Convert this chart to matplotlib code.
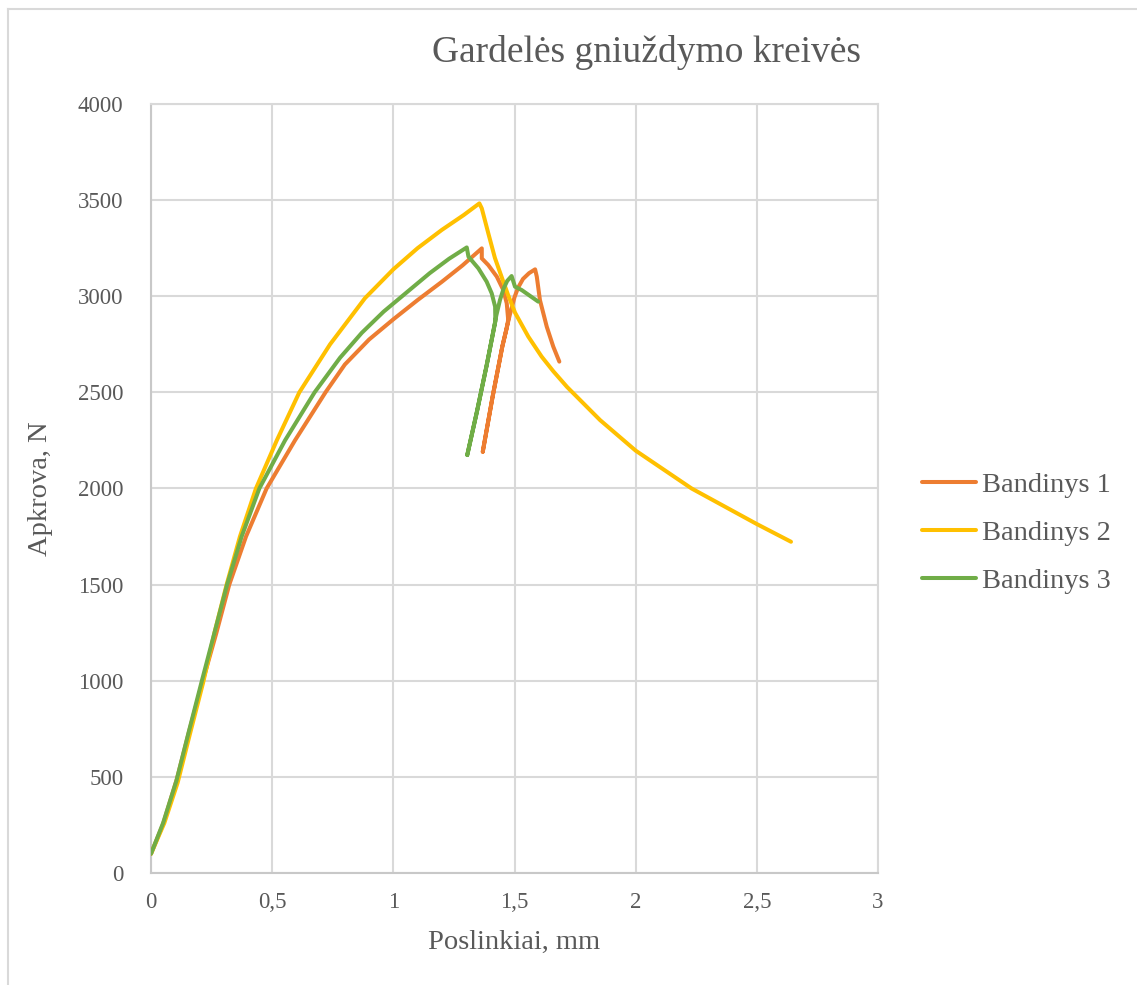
import matplotlib
matplotlib.use("Agg")
import matplotlib.pyplot as plt
from matplotlib.lines import Line2D

# ---------------- data ----------------
# Bandinys 1 (orange): loading branch, collapse branch, reloading branch
b1_rise_x = [0, 0.05, 0.107, 0.158, 0.214, 0.27, 0.323, 0.392, 0.477, 0.594, 0.72, 0.80, 0.90, 1.0, 1.1, 1.2, 1.285, 1.365]
b1_rise_y = [100, 255, 490, 740, 1000, 1250, 1500, 1750, 2000, 2250, 2500, 2645, 2775, 2880, 2980, 3075, 3160, 3249]
b1_fall_x = [1.365, 1.392, 1.427, 1.454, 1.468, 1.474, 1.467, 1.45, 1.41, 1.369]
b1_fall_y = [3197, 3162, 3102, 3032, 2963, 2877, 2830, 2740, 2480, 2191]
b1_back_x = [1.41, 1.45, 1.48, 1.50, 1.515, 1.535, 1.56, 1.585, 1.592, 1.605, 1.633, 1.66, 1.685]
b1_back_y = [2480, 2740, 2900, 2995, 3045, 3090, 3120, 3140, 3102, 2980, 2842, 2738, 2660]

# Bandinys 2 (yellow)
b2_x = [0, 0.055, 0.11, 0.16, 0.215, 0.262, 0.312, 0.367, 0.433, 0.519, 0.612, 0.739, 0.883, 1.0, 1.1, 1.2, 1.29,
        1.355, 1.365, 1.392, 1.419, 1.447, 1.474, 1.502, 1.557, 1.612, 1.66, 1.717, 1.853, 2.0, 2.231, 2.5, 2.641]
b2_y = [100, 260, 470, 720, 990, 1250, 1500, 1750, 2000, 2250, 2500, 2750, 2990, 3140, 3250, 3345, 3422,
        3483, 3457, 3327, 3200, 3100, 3005, 2915, 2790, 2686, 2610, 2528, 2356, 2197, 2000, 1815, 1723]

# Bandinys 3 (green)
b3_rise_x = [0, 0.05, 0.105, 0.155, 0.21, 0.262, 0.314, 0.374, 0.447, 0.553, 0.675, 0.78, 0.87, 0.96, 1.055, 1.15, 1.23, 1.303]
b3_rise_y = [100, 260, 480, 730, 1000, 1250, 1500, 1750, 2000, 2250, 2500, 2680, 2810, 2920, 3020, 3120, 3195, 3254]
b3_fall_x = [1.31, 1.351, 1.385, 1.406, 1.420, 1.421, 1.41, 1.385, 1.345, 1.305]
b3_fall_y = [3206, 3145, 3076, 3015, 2946, 2870, 2800, 2640, 2400, 2174]
b3_back_x = [1.345, 1.385, 1.41, 1.425, 1.44, 1.455, 1.47, 1.488, 1.502, 1.530, 1.598]
b3_back_y = [2400, 2640, 2800, 2900, 2980, 3040, 3080, 3105, 3050, 3032, 2972]

series_names = ["Bandinys 1", "Bandinys 2", "Bandinys 3"]
series_colors = ["#ED7D31", "#FFC000", "#70AD47"]

title_text = "Gardelės gniuždymo kreivės"
xlabel_text = "Poslinkiai, mm"
ylabel_text = "Apkrova, N"
x_ticks = [0, 0.5, 1, 1.5, 2, 2.5, 3]
x_tick_labels = ["0", "0,5", "1", "1,5", "2", "2,5", "3"]
y_ticks = [0, 500, 1000, 1500, 2000, 2500, 3000, 3500, 4000]

# ---------------- figure ----------------
plt.rcParams['font.family'] = ['Liberation Serif', 'DejaVu Serif']
text_color = "#595959"
grid_color = "#d9d9d9"

W, H = 1137, 985
fig = plt.figure(figsize=(W / 100, H / 100), dpi=100)
fig.patch.set_facecolor("white")

# chart-area border (left and top visible)
fig.add_artist(Line2D([7.5 / W, 7.5 / W], [1 - 8.5 / H, 0], transform=fig.transFigure,
                      color=grid_color, lw=1.5))
fig.add_artist(Line2D([7.5 / W, 1], [1 - 8.5 / H, 1 - 8.5 / H], transform=fig.transFigure,
                      color=grid_color, lw=1.5))

left, right, top, bottom = 151, 878, 104, 873
ax = fig.add_axes([left / W, 1 - bottom / H, (right - left) / W, (bottom - top) / H])

lw = 2.9
b1_x = b1_rise_x + b1_fall_x + b1_back_x
b1_y = b1_rise_y + b1_fall_y + b1_back_y
b3_x = b3_rise_x + b3_fall_x + b3_back_x
b3_y = b3_rise_y + b3_fall_y + b3_back_y

style = dict(lw=lw, solid_capstyle='round', solid_joinstyle='round', zorder=3)
ax.plot(b1_x, b1_y, color=series_colors[0], label=series_names[0], **style)
ax.plot(b2_x, b2_y, color=series_colors[1], label=series_names[1], **style)
ax.plot(b3_x, b3_y, color=series_colors[2], label=series_names[2], **style)

ax.set_xlim(0, 3)
ax.set_ylim(0, 4000)
ax.set_xticks(x_ticks)
ax.set_xticklabels(x_tick_labels)
ax.set_yticks(y_ticks)
ax.grid(True, color=grid_color, lw=1.5, zorder=0)
ax.set_axisbelow(True)
for s in ax.spines.values():
    s.set_color(grid_color)
    s.set_linewidth(1.5)
ax.spines['left'].set_color("#c8c8c8")
ax.spines['bottom'].set_color("#c8c8c8")
ax.tick_params(axis='both', length=0, labelsize=16.5, colors=text_color)
ax.tick_params(axis='y', pad=20)
ax.tick_params(axis='x', pad=14)

ax.set_xlabel(xlabel_text, fontsize=20.5, color=text_color, labelpad=12)
ax.set_ylabel(ylabel_text, fontsize=20.5, color=text_color, labelpad=18)

fig.text(646 / W, 1 - 52 / H, title_text, fontsize=27, color=text_color,
         ha='center', va='center')

leg = fig.legend(handles=ax.get_lines(), labels=series_names, loc='center left',
                 bbox_to_anchor=(922 / W, 1 - 533 / H), frameon=False,
                 fontsize=20.5, handlelength=1.9, handletextpad=0.2,
                 labelspacing=0.78, borderpad=0, borderaxespad=0)
for t in leg.get_texts():
    t.set_color(text_color)

fig.savefig("out.png", dpi=100)
